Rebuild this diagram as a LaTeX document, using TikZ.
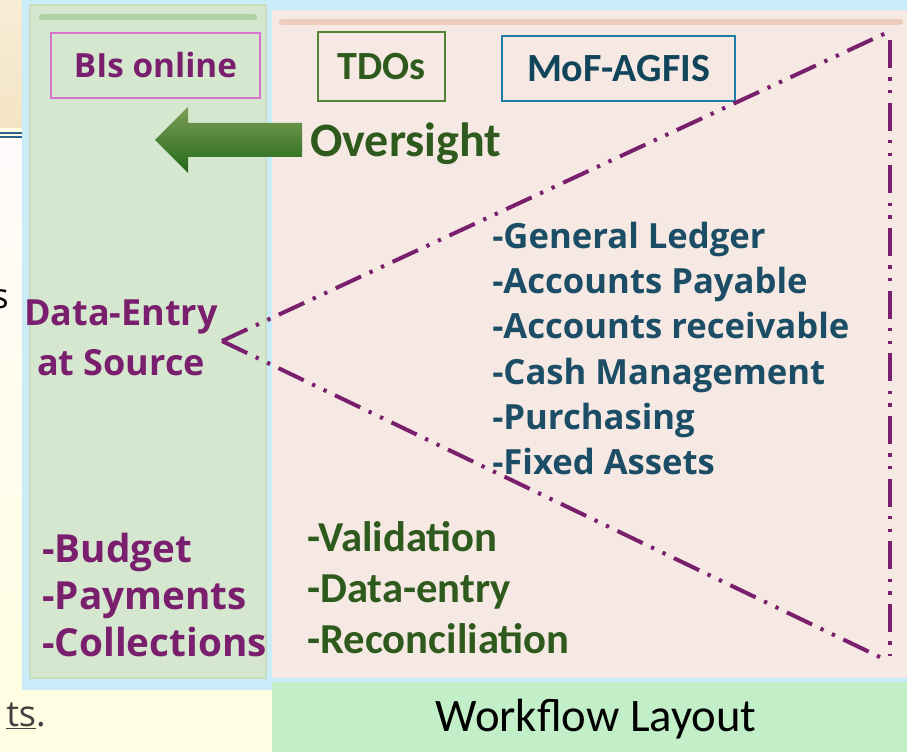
\documentclass[tikz,border=0pt]{standalone}
\usepackage{fontspec}
\setmainfont{Open Sans}
\newfontfamily\calfont{Carlito}
\usepackage{xcolor}
\usepackage{tikz}
\usetikzlibrary{calc}
\usetikzlibrary{positioning}

\definecolor{skyback}{HTML}{C9ECF8}
\definecolor{greenpanel}{HTML}{D6E7D0}
\definecolor{pinkpanel}{HTML}{F6E8E2}
\definecolor{bandgreen}{HTML}{C2EFC7}
\definecolor{paleyellow}{HTML}{FFFEE2}
\definecolor{plum}{HTML}{7A1F6D}
\definecolor{slateteal}{HTML}{1B4D66}
\definecolor{olivegreen}{HTML}{2E5A1D}
\definecolor{boxpink}{HTML}{D774D0}
\definecolor{boxgreen}{HTML}{548235}
\definecolor{boxblue}{HTML}{1F7EA6}
\definecolor{beige}{HTML}{F4E4C4}
\definecolor{slideblue}{HTML}{2B6491}
\definecolor{arrowtop}{HTML}{7D9D57}
\definecolor{arrowbot}{HTML}{216917}
\definecolor{greenline}{HTML}{B2D2A5}
\definecolor{pinkline}{HTML}{EECDBF}
\definecolor{greenedge}{HTML}{C5DCBD}

\begin{document}
\begin{tikzpicture}[x=0.75pt, y=-0.75pt]

                \def\d{33.75pt}

                % text and box looks
                \tikzset{
                    plumtext/.style={font=\bfseries\fontsize{27}{30}\selectfont,
                        text=plum, inner sep=0pt},
                    tealtext/.style={font=\bfseries\fontsize{26}{30}\selectfont,
                        text=slateteal, inner sep=0pt},
                    olivetext/.style={font=\calfont\bfseries\fontsize{32}{36}\selectfont,
                        text=olivegreen, inner sep=0pt},
                    titlebox/.style={draw, line width=1.5pt, inner sep=0pt,
                        font=\calfont\bfseries\fontsize{30}{34}\selectfont},
                    triline/.style={draw=plum, line width=3pt,
                        dash pattern=on 21pt off 7pt on 2.5pt off 7pt on 2.5pt off 7pt}
                }

                \useasboundingbox (0,0) rectangle (907,752);

                % backgrounds
                \fill[paleyellow] (0,0) rectangle (907,752);
                \shade[top color=beige!70!white, bottom color=beige] (0,0) rectangle (22,128);
                \draw[slideblue, line width=1.5pt] (0,133) -- (22,133);
                \draw[slideblue, line width=1.5pt] (0,137.5) -- (22,137.5);
                \shade[top color=pink!8!white, bottom color=paleyellow] (0,140) rectangle (22,690);
                \fill[skyback] (22,0) rectangle (907,690);
                \fill[greenpanel] (30,5) rectangle (266,678);
                \draw[greenedge, line width=1.2pt] (30,5) rectangle (266,678);
                \draw[greenline, line width=5pt, line cap=round] (42,17) -- (254,17);
                \fill[pinkpanel] (272,10) rectangle (907,678);
                \draw[pinkline, line width=5pt, line cap=round] (282,22) -- (900,22);
                \fill[bandgreen] (272,682) rectangle (907,752);

                % slide fragments at the left edge
                \node (S1) [anchor=base east, font=\fontsize{26}{30}\selectfont, inner sep=0pt]
                    at (9,309) {s};
                \node (S2) [anchor=base east, font=\fontsize{27}{30}\selectfont,
                    text=black!75, inner sep=0pt] at (46,726) {\underline{ts}.};

                % oversight arrow
                \shade[top color=arrowtop, bottom color=arrowbot]
                    (155,140) -- (188,107) -- (188,123) -- (302,123) -- (302,157)
                    -- (188,157) -- (188,173) -- cycle;

                \begin{scope}
                    \node (BI) [titlebox, draw=boxpink, text=plum,
                        font=\bfseries\fontsize{25}{30}\selectfont,
                        minimum width=157pt, minimum height=49pt] at (155.5,65.5) {BIs online};
                    \node (TD) [titlebox, draw=boxgreen, text=olivegreen,
                        minimum width=95pt, minimum height=52pt] at (381.5,66.5) {TDOs};
                    \node (MF) [titlebox, draw=boxblue, text=boxblue!55!black,
                        minimum width=175pt, minimum height=49pt] at (618.5,68.5) {MoF-AGFIS};

                    \node (OV) [olivetext, font=\calfont\bfseries\fontsize{36}{40}\selectfont,
                        anchor=base west] at (310,157) {Oversight};

                    \node (DE) [plumtext, align=center, anchor=base] at (121,376)
                    {Data-Entry\\[8pt]at Source};

                    \node (G1) [tealtext, anchor=base west] at (492,249) {-General Ledger};
                    \node (G2) [tealtext, below=\d of G1.base west, anchor=base west]
                    {-Accounts Payable};
                    \node (G3) [tealtext, below=\d of G2.base west, anchor=base west]
                    {-Accounts receivable};
                    \node (G4) [tealtext, below=\d of G3.base west, anchor=base west]
                    {-Cash Management};
                    \node (G5) [tealtext, below=\d of G4.base west, anchor=base west]
                    {-Purchasing};
                    \node (G6) [tealtext, below=\d of G5.base west, anchor=base west]
                    {-Fixed Assets};

                    \node (B1) [plumtext, font=\bfseries\fontsize{29}{32}\selectfont,
                        anchor=base west] at (42,562) {-Budget};
                    \node (B2) [plumtext, font=\bfseries\fontsize{29}{32}\selectfont,
                        below=35.6pt of B1.base west, anchor=base west] {-Payments};
                    \node (B3) [plumtext, font=\bfseries\fontsize{29}{32}\selectfont,
                        below=35.6pt of B2.base west, anchor=base west] {-Collections};

                    \node (V1) [olivetext, anchor=base west] at (307,551) {-Validation};
                    \node (V2) [olivetext, below=38.25pt of V1.base west, anchor=base west]
                    {-Data-entry};
                    \node (V3) [olivetext, below=38.25pt of V2.base west, anchor=base west]
                    {-Reconciliation};

                    \node (WL) [font=\calfont\fontsize{35}{40}\selectfont, inner sep=0pt,
                        anchor=base] at (596,731) {Workflow Layout};
                \end{scope}

                % dash-dot-dot triangle
                \coordinate (apex) at (222,341);
                \coordinate (topC) at (886,33);
                \coordinate (botC) at (886,660);
                \coordinate (vTop) at (890,40);
                \coordinate (vBot) at (890,656);

                \begin{scope}[triline]
                    \draw (apex) -- (topC);
                    \draw (apex) -- (botC);
                    \draw (vTop) -- (vBot);
                \end{scope}

\end{tikzpicture}
\end{document}
